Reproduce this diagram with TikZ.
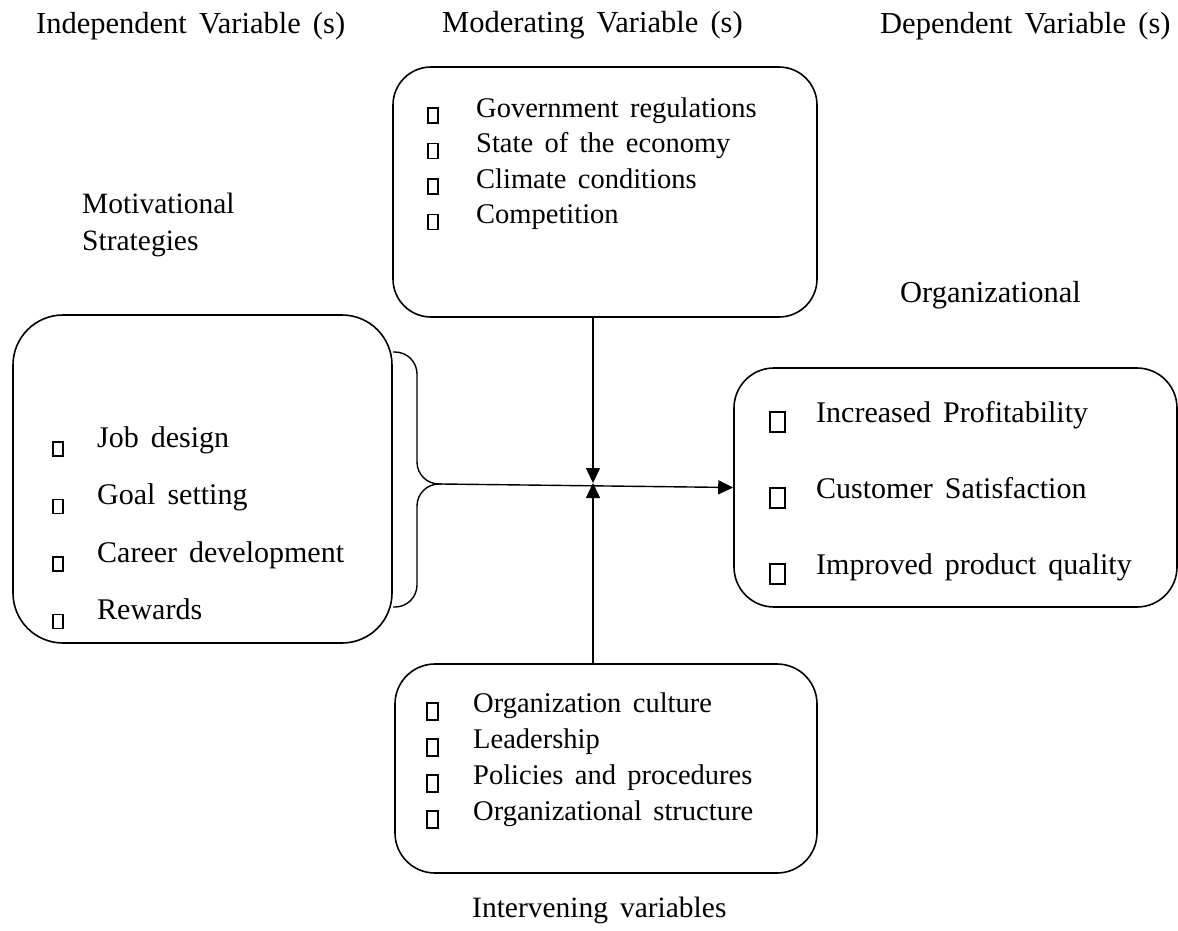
\documentclass[tikz,border=0pt]{standalone}
\usepackage{fontspec}
\setmainfont[WordSpace=1.6]{Liberation Serif}
\usetikzlibrary{arrows.meta}

\tikzstyle{varbox} = [draw=black, line width=1.6pt, rectangle, inner sep=0pt]
\tikzstyle{headtext} = [inner sep=0pt, anchor=base west, font=\fontsize{30.5}{36}\selectfont]
\tikzstyle{bigitem} = [inner sep=0pt, anchor=base west, font=\fontsize{30}{36}\selectfont]
\tikzstyle{smallitem} = [inner sep=0pt, anchor=base west, font=\fontsize{28.5}{35}\selectfont]
\tikzstyle{tick} = [draw=black, line width=1.4pt]
\tikzstyle{flow} = [draw=black, line width=1.4pt, -{Triangle[length=15pt,width=14pt]}]

\begin{document}
\begin{tikzpicture}[x=1pt, y=-1pt]
\useasboundingbox (0,0) rectangle (1178,930);

% column headings
\node[headtext] (indep) at (36,33) {Independent Variable (s)};
\node[headtext] (moder) at (442,32) {Moderating Variable (s)};
\node[headtext] (depen) at (880,33) {Dependent Variable (s)};

% moderating variables
\node[varbox, rounded corners=38pt, minimum width=424pt, minimum height=250pt] (moderating) at (605,192) {};
\foreach \txt [count=\i] in {Government regulations, State of the economy, Climate conditions, Competition}{
  \node[smallitem] (mod\i) at (476,{81.5+35.5*\i}) {\txt};
  \draw[tick] (428,{72.5+35.5*\i}) rectangle ++(10,15);
}

% independent variables
\node[inner sep=0pt, anchor=north west, align=left, font=\fontsize{29.5}{37}\selectfont] (motiv) at (82,193) {Motivational\\Strategies};
\node[varbox, rounded corners=50pt, minimum width=379pt, minimum height=328pt] (strategies) at (202.5,479) {};
\foreach \txt [count=\i] in {Job design, Goal setting, Career development, Rewards}{
  \node[bigitem] (str\i) at (97,{389.5+57.5*\i}) {\txt};
  \draw[tick] (53,{384.5+57.5*\i}) rectangle ++(10,14);
}

% brace
\coordinate (tip) at (442,484);
\draw[line width=1.4pt, rounded corners=22pt] (393,352) -| (417,484) -- (tip);
\draw[line width=1.4pt, rounded corners=22pt] (393,607) -| (417,484) -- (tip);

% dependent variables
\node[bigitem, font=\fontsize{30.5}{36}\selectfont] (organiz) at (900,302) {Organizational};
\node[varbox, rounded corners=40pt, minimum width=443pt, minimum height=239pt] (outcome) at (955.5,487.5) {};
\foreach \txt [count=\i] in {Increased Profitability, Customer Satisfaction, Improved product quality}{
  \node[bigitem] (out\i) at (816,{346+76*\i}) {\txt};
  \draw[tick] (770,{336+76*\i}) rectangle ++(15,20);
}

% intervening variables
\node[varbox, rounded corners=40pt, minimum width=422pt, minimum height=209pt] (intervening) at (606,768.5) {};
\foreach \txt [count=\i] in {Organization culture, Leadership, Policies and procedures, Organizational structure}{
  \node[smallitem] (int\i) at (473,{676+36*\i}) {\txt};
  \draw[tick] (427,{667+36*\i}) rectangle ++(11,17);
}
\node[headtext, font=\fontsize{29.5}{36}\selectfont] (interv) at (472,917) {Intervening variables};

% arrows
\coordinate (meet) at (593,483);
\draw[flow] (tip) -- (outcome.west);
\draw[flow] (moderating.south -| meet) -- (meet);
\draw[flow] (intervening.north -| meet) -- (meet);
\end{tikzpicture}
\end{document}
